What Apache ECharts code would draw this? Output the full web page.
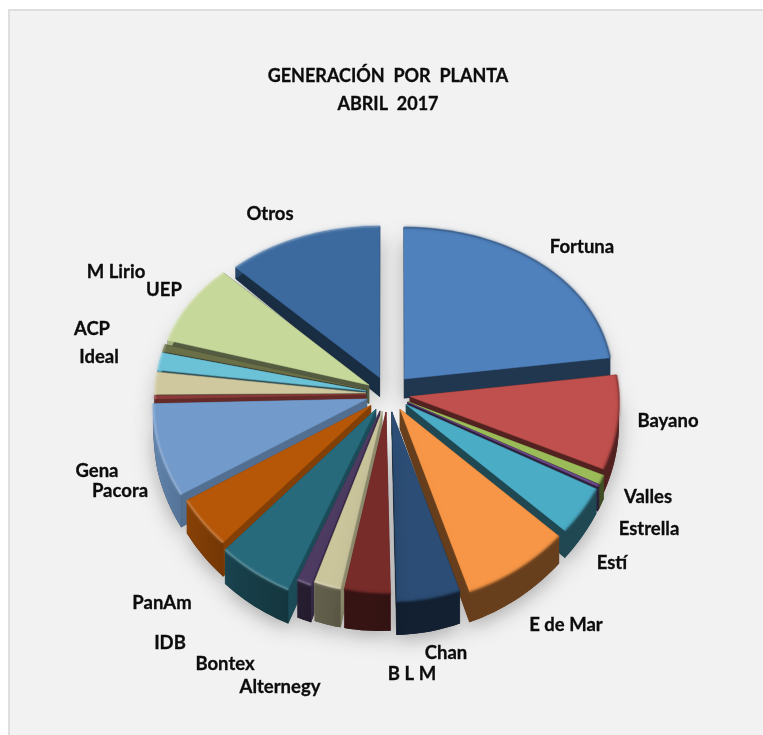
<!DOCTYPE html>
<html><head><meta charset="utf-8">
<style>html,body{margin:0;padding:0;background:#fff}#c{width:763px;height:735px}</style>
<script src="https://cdn.jsdelivr.net/npm/echarts@6/dist/echarts.min.js"></script>
</head><body><div id="c"></div>
<script>
const categories=['Fortuna','Bayano','Valles','Estrella','Estí','E de Mar','Chan','B L M','Alternegy','Bontex','IDB','PanAm','Pacora','Gena','Ideal','ACP','M Lirio','UEP','Otros'];
const values=[23,8.8,0.8,0.2,4.2,8,4.8,3.6,2.1,1.1,5.5,4.4,8.3,0.3,2.1,1.7,0.7,8.2,12.5];
const colors=['#4f81bd','#c0504d','#9bbb59','#6b4a8a','#4bacc6','#f79646','#2c4d75','#772c2a','#cbc59c','#4d3b62','#276a7c','#b65708','#729aca','#8a3a38','#cfc89f','#6bc1d6','#6a6f48','#c6d89a','#3c6a9f'];
const labelX=[582,668,648,649,612,566,446,412,280,225,170,162,120,97,99,92,116,164,270];
const labelY=[247,421,497,529,563,625,653,674,687,664,643,603,491,471,357,329,272,290,214];
const radiusScale=[0.99,0.99,1,1,1,1,0.98,0.94,0.94,0.96,1.02,1,1.01,1,1,1,1,1,0.99];
const explodeScale=[1.12,1,1,1,1,1,1,1,1,1,1,1,1,1,1,1,1,1,1];

const CX=388,CY=394,RX=211,RY=171,P=0.1,EXPLODE=0.105;
const total=values.reduce((a,b)=>a+b,0);
const project=(X,Y)=>{const s=1/(1-P*Y);return [CX+RX*X*Math.pow(s,0.3),CY+RY*Y*s];};
function shade(hex,f){const n=parseInt(hex.slice(1),16);const c=[n>>16,(n>>8)&255,n&255].map(v=>Math.round(f>1?v+(255-v)*(f-1):v*f));return `rgb(${c[0]},${c[1]},${c[2]})`;}

const slices=[];let acc=0;
values.forEach((v,i)=>{const a0=acc/total*2*Math.PI;acc+=v;const a1=acc/total*2*Math.PI;const m=(a0+a1)/2;
  const e=EXPLODE*explodeScale[i],r=radiusScale[i];
  const ox=Math.sin(m)*e,oy=-Math.cos(m)*e;
  const arc=[];const n=Math.max(2,Math.ceil((a1-a0)/0.03));
  for(let k=0;k<=n;k++){const a=a0+(a1-a0)*k/n;arc.push([ox+r*Math.sin(a),oy-r*Math.cos(a),a]);}
  slices.push({i,m,ox,oy,arc,boost:(1-r)*RY*1.1*0.6});
});
const order=slices.slice().sort((a,b)=>(-Math.cos(a.m))-(-Math.cos(b.m)));
const rank={};order.forEach((s,r)=>rank[s.i]=r);

function wallFactor(a){const sx=Math.sin(a);return sx<0?0.44-0.42*sx*Math.abs(sx):0.42;}
function sideFactor(m){return (Math.sin(m)<0&&Math.cos(m)<0)?0.72:0.42;}
function renderSlice(params,api){
  const s=slices[api.value(0)],col=colors[s.i],z=rank[s.i]*10+10;
  const depth=(X,Y)=>Math.max(0,19+11*Y)+Math.max(0,s.boost)+(X<0&&Y>0?8*(-X)*Math.min(1,Y*4):0);
  const top=s.arc.map(p=>project(p[0],p[1]));
  const apex=project(s.ox,s.oy);
  const down=(p,X,Y)=>[p[0],p[1]+depth(X,Y)];
  const kids=[];
  const sideCol=shade(col,sideFactor(s.m));
  const bot=top.map((p,k)=>down(p,s.arc[k][0],s.arc[k][1]));
  const apexDown=down(apex,s.ox,s.oy);
  const L=top.length-1;
  kids.push({type:'polygon',shape:{points:[apexDown].concat(bot)},style:{fill:shade(col,0.42),shadowBlur:20,shadowColor:'rgba(0,0,0,0.3)',shadowOffsetY:5},z2:z});
  [0,L].forEach(k=>kids.push({type:'polygon',shape:{points:[apex,top[k],bot[k],apexDown]},style:{fill:sideCol,stroke:sideCol,lineWidth:0.5},z2:z+1}));
  const x0=Math.min(top[0][0],top[L][0]),x1=Math.max(top[0][0],top[L][0]);
  const stops=[];for(let k=0;k<=L;k+=Math.max(1,Math.floor(L/4))){stops.push({offset:x1>x0?Math.min(1,Math.max(0,(top[k][0]-x0)/(x1-x0))):0,color:shade(col,wallFactor(s.arc[k][2]))});}
  stops.sort((a,b)=>a.offset-b.offset);
  const wallFill=new echarts.graphic.LinearGradient(x0,0,Math.max(x1,x0+1),0,stops,true);
  kids.push({type:'polygon',shape:{points:top.concat(bot.slice().reverse())},style:{fill:wallFill},z2:z+2});
  kids.push({type:'polygon',shape:{points:[apex].concat(top)},style:{fill:col,stroke:col,lineWidth:0.5},z2:z+3});
  const sx=Math.sin(s.m);
  const rim=sx<-0.2?shade(col,1.3):shade(col,0.68);
  kids.push({type:'polyline',shape:{points:top},style:{fill:'none',stroke:rim,lineWidth:2,opacity:0.55,shadowBlur:3,shadowColor:rim},z2:z+4});
  return {type:'group',children:kids};
}

const chart=echarts.init(document.getElementById('c'),null,{renderer:'canvas'});
chart.setOption({
  animation:false,
  backgroundColor:'#ffffff',
  title:{text:'GENERACIÓN  POR  PLANTA\nABRIL  2017',left:383,top:57,textAlign:'center',
    textStyle:{fontFamily:'Lato',fontWeight:'bold',fontSize:18,color:'#0c0c0c',lineHeight:28,textBorderColor:'#0c0c0c',textBorderWidth:0.3}},
  graphic:[{type:'rect',silent:true,z:-10,shape:{x:9,y:10,width:770,height:760},style:{fill:'#f2f2f2',stroke:'#dedede',lineWidth:2}}],
  series:[
    {type:'custom',coordinateSystem:'none',silent:true,renderItem:renderSlice,
     data:categories.map((c,i)=>({name:c,value:[i,values[i]]}))},
    {type:'custom',coordinateSystem:'none',silent:true,z:5,
     renderItem:(p,api)=>{const i=api.value(0);return {type:'text',style:{text:categories[i],x:labelX[i],y:labelY[i],align:'center',verticalAlign:'middle',font:'bold 18.5px Lato',fill:'#0c0c0c',stroke:'#0c0c0c',lineWidth:0.3}};},
     data:categories.map((c,i)=>[i])}
  ]
});
</script></body></html>
